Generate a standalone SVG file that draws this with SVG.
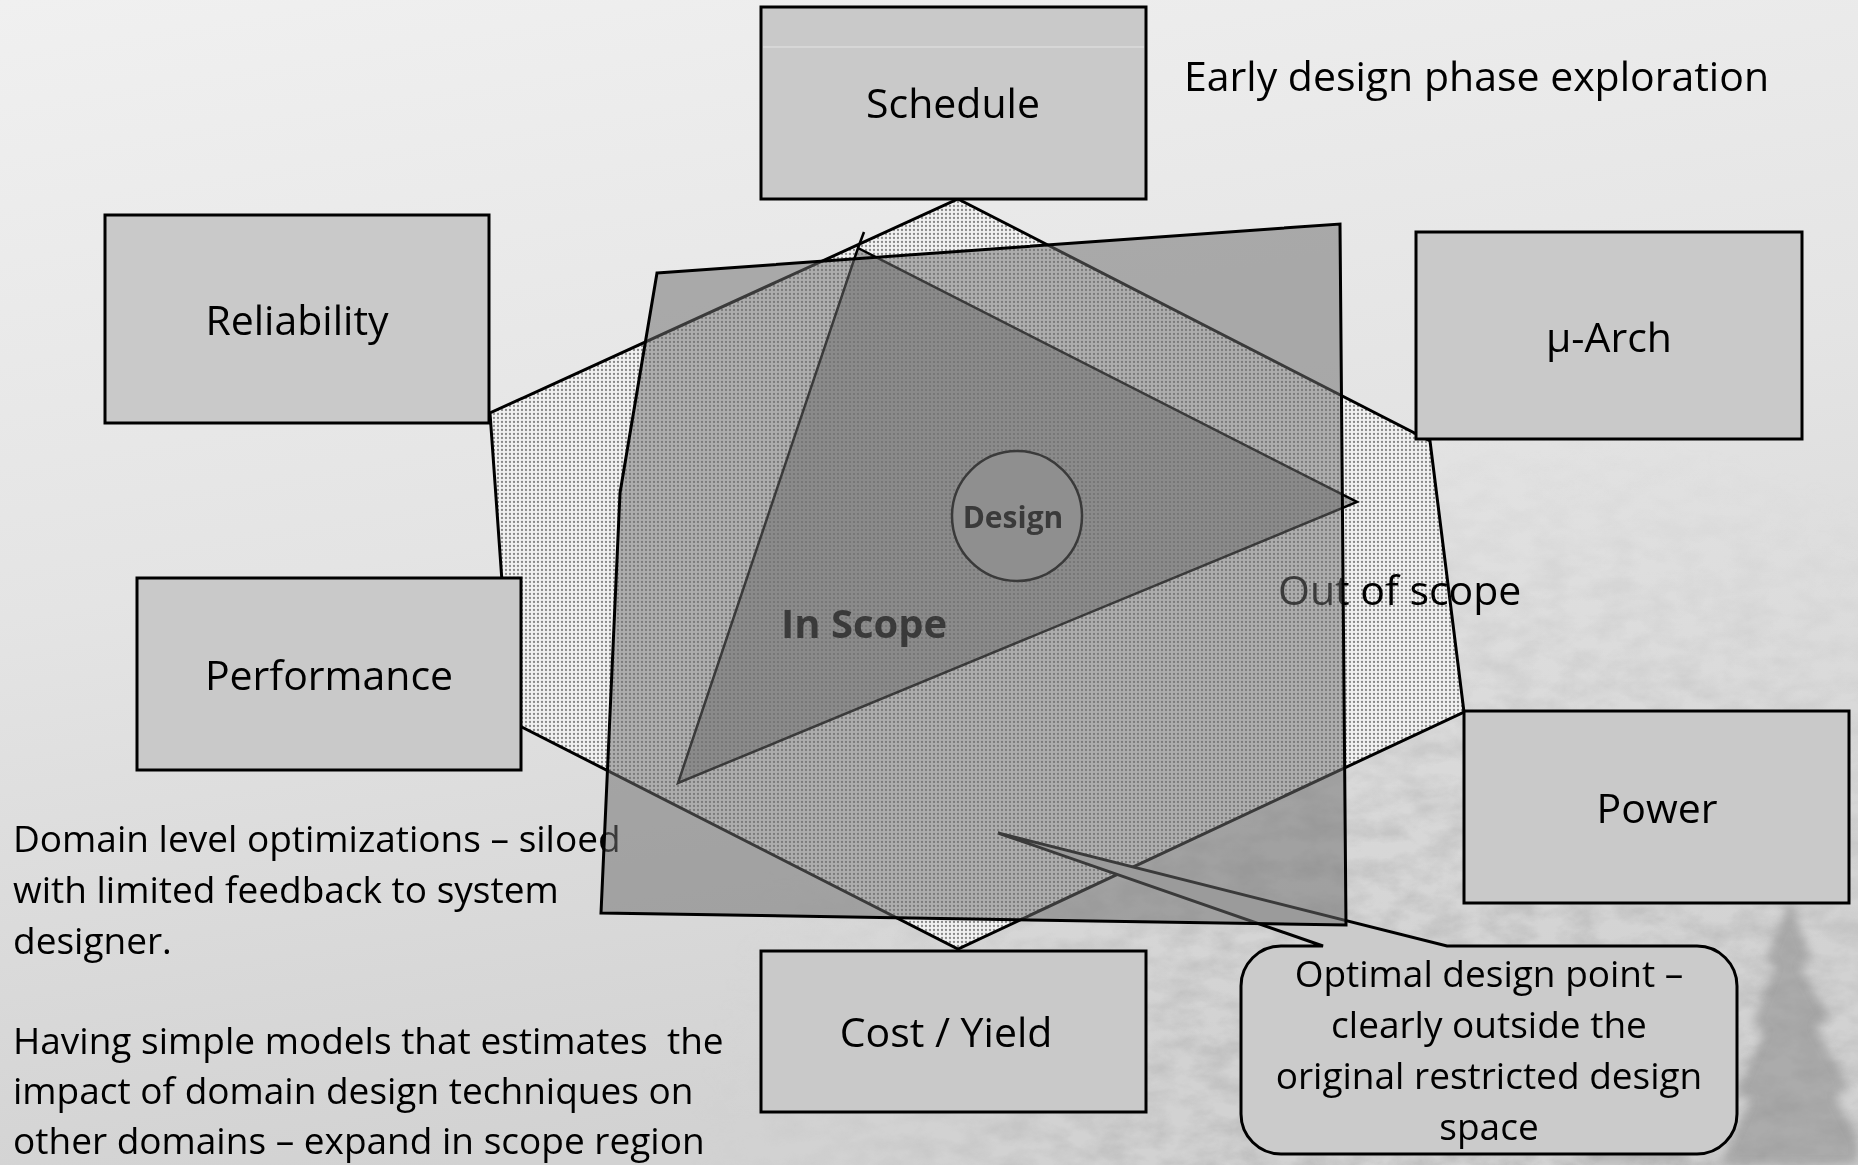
<svg xmlns="http://www.w3.org/2000/svg" width="1858" height="1165" viewBox="0 0 1858 1165">
  <defs>
    <linearGradient id="sky" x1="0" y1="0" x2="0.25" y2="1">
      <stop offset="0" stop-color="#f0f0f0"/>
      <stop offset="0.5" stop-color="#e4e4e4"/>
      <stop offset="1" stop-color="#d2d2d2"/>
    </linearGradient>
    <radialGradient id="fogFade" gradientUnits="userSpaceOnUse" cx="1500" cy="1230" r="820">
      <stop offset="0" stop-color="#fff"/>
      <stop offset="0.5" stop-color="#999"/>
      <stop offset="1" stop-color="#000"/>
    </radialGradient>
    <mask id="fogMask">
      <rect x="0" y="0" width="1858" height="1165" fill="url(#fogFade)"/>
    </mask>
    <filter id="foliage" x="0" y="0" width="1" height="1">
      <feTurbulence type="fractalNoise" baseFrequency="0.03 0.05" numOctaves="4" seed="11"/>
      <feColorMatrix type="matrix" values="0 0 0 0 0.4  0 0 0 0 0.4  0 0 0 0 0.4  2 0 0 0 -0.66"/>
    </filter>
    <filter id="soft" x="-20%" y="-20%" width="140%" height="140%">
      <feGaussianBlur stdDeviation="5"/>
    </filter>
    <pattern id="hexDots" width="4" height="4" patternUnits="userSpaceOnUse">
      <rect width="4" height="4" fill="#f1f1f1"/>
      <circle cx="2" cy="2" r="1.15" fill="#888"/>
    </pattern>
    <pattern id="triDots" width="4" height="4" patternUnits="userSpaceOnUse">
      <rect width="4" height="4" fill="#a8a8a8"/>
      <circle cx="2" cy="2" r="1.1" fill="#787878"/>
    </pattern>
    <style>
      .box { fill: #c9c9c9; stroke: #000; stroke-width: 3; }
      .lbl { font-family: "Open Sans", "Noto Sans", sans-serif; font-size: 41px; fill: #000; text-anchor: middle; }
      .txt { font-family: "Open Sans", "Noto Sans", sans-serif; font-size: 37px; fill: #000; white-space: pre; }
      .cal { font-family: "Open Sans", "Noto Sans", sans-serif; font-size: 37px; fill: #000; text-anchor: middle; }
      .bold { font-family: "Open Sans", "Noto Sans", sans-serif; font-weight: bold; fill: #000; }
    </style>
  </defs>

  <!-- misty backdrop -->
  <rect x="0" y="0" width="1858" height="1165" fill="url(#sky)"/>
  <g mask="url(#fogMask)" opacity="0.65">
    <rect x="0" y="0" width="1858" height="1165" filter="url(#foliage)"/>
  </g>
  <g filter="url(#soft)" fill="#8a8a8a" opacity="0.55">
    <path d="M1790,900 L1812,960 L1800,965 L1830,1020 L1815,1025 L1850,1090 L1835,1095 L1858,1140 L1858,1165 L1720,1165 L1750,1100 L1735,1095 L1765,1030 L1752,1025 L1775,965 L1765,960 Z"/>
    <path d="M1640,980 L1660,1030 L1650,1034 L1675,1090 L1660,1095 L1690,1165 L1585,1165 L1615,1095 L1602,1090 L1625,1034 L1615,1030 Z" opacity="0.6"/>
  </g>

  <!-- design-space hexagon -->
  <g id="design-space">
    <polygon points="958,199 1430,441 1464,712 958,949 512,722 490,413" fill="url(#hexDots)" stroke="#000" stroke-width="3" stroke-linejoin="miter"/>
  </g>

  <!-- in-scope triangle -->
  <g id="in-scope">
    <polygon points="858,248 1357,502 678,783" fill="url(#triDots)" stroke="#000" stroke-width="2.5"/>
    <line x1="858" y1="248" x2="864" y2="232" stroke="#000" stroke-width="2.5"/>
    <text class="bold" x="781" y="638" font-size="40">In Scope</text>
  </g>

  <!-- design centre -->
  <g id="design">
    <circle cx="1017" cy="516" r="65" fill="#b2b2b2" stroke="#000" stroke-width="2.5"/>
    <text class="bold" x="1013" y="528" font-size="30" text-anchor="middle">Design</text>
  </g>

  <g id="out-of-scope">
    <text class="lbl" x="1278" y="605" style="text-anchor:start">Out of scope</text>
  </g>

  <!-- notes -->
  <g id="notes">
    <text class="txt" x="13" y="852">Domain level optimizations – siloed</text>
    <text class="txt" x="13" y="903">with limited feedback to system</text>
    <text class="txt" x="13" y="954">designer.</text>
    <text class="txt" x="13" y="1054">Having simple models that estimates  the</text>
    <text class="txt" x="13" y="1104">impact of domain design techniques on</text>
    <text class="txt" x="13" y="1154">other domains – expand in scope region</text>
  </g>

  <!-- optimal point callout -->
  <g id="callout">
    <path d="M1281,946 L1323,946 L998,833 L1447,946 L1697,946 A40,40 0 0 1 1737,986 L1737,1114 A40,40 0 0 1 1697,1154 L1281,1154 A40,40 0 0 1 1241,1114 L1241,986 A40,40 0 0 1 1281,946 Z" fill="#cbcbcb" stroke="#000" stroke-width="3" stroke-linejoin="miter"/>
    <text class="cal" x="1489" y="987">Optimal design point –</text>
    <text class="cal" x="1489" y="1038">clearly outside the</text>
    <text class="cal" x="1489" y="1089">original restricted design</text>
    <text class="cal" x="1489" y="1140">space</text>
  </g>

  <!-- domain-level region (translucent overlay) -->
  <g id="domain-region">
    <polygon points="657,273 1340,224 1346,925 601,913 620,493" fill="#707070" fill-opacity="0.52" stroke="#000" stroke-width="3"/>
  </g>

  <!-- domain boxes -->
  <g id="schedule">
    <rect class="box" x="761" y="7" width="385" height="192"/>
    <line x1="763" y1="47" x2="1144" y2="47" stroke="#e4e4e4" stroke-width="1"/>
    <text class="lbl" x="953" y="118">Schedule</text>
  </g>
  <g id="reliability">
    <rect class="box" x="105" y="215" width="384" height="208"/>
    <text class="lbl" x="297" y="335">Reliability</text>
  </g>
  <g id="march">
    <rect class="box" x="1416" y="232" width="386" height="207"/>
    <text class="lbl" x="1609" y="352">μ-Arch</text>
  </g>
  <g id="performance">
    <rect class="box" x="137" y="578" width="384" height="192"/>
    <text class="lbl" x="329" y="690">Performance</text>
  </g>
  <g id="power">
    <rect class="box" x="1464" y="711" width="385" height="192"/>
    <text class="lbl" x="1657" y="823">Power</text>
  </g>
  <g id="cost-yield">
    <rect class="box" x="761" y="951" width="385" height="161"/>
    <text class="lbl" x="946" y="1047">Cost / Yield</text>
  </g>

  <g id="caption">
    <text class="lbl" x="1184" y="91" style="text-anchor:start">Early design phase exploration</text>
  </g>
</svg>
